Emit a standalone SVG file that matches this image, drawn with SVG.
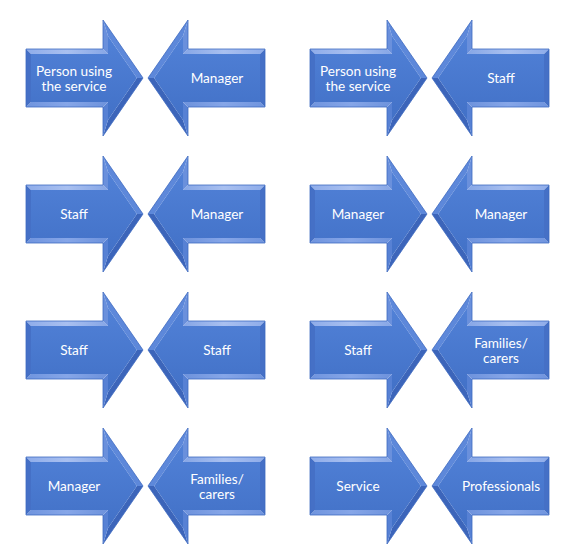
<svg xmlns="http://www.w3.org/2000/svg" xmlns:xlink="http://www.w3.org/1999/xlink" width="570" height="560" viewBox="0 0 570 560">
<style>
text{font-family:Lato,"Open Sans","Liberation Sans",sans-serif;font-size:13.6px;fill:#ffffff;text-anchor:middle}
.top{fill:url(#gTop)}
.hb1{fill:#6a90dc}
.hu{fill:#5d88da}
.hl{fill:#3c65ba}
.hb2{fill:#5781d4}
.bot{fill:url(#gBot)}
.end{fill:#4570c6}
.face{fill:url(#gFace)}
.out{fill:none;stroke:#3d69c0;stroke-width:0.8;stroke-linejoin:miter}
</style>
<defs>
<linearGradient id="gFace" x1="0" y1="0" x2="0" y2="1">
<stop offset="0" stop-color="#5181d7"/>
<stop offset="1" stop-color="#4271c7"/>
</linearGradient>
<linearGradient id="gTop" x1="0" y1="0" x2="1" y2="0">
<stop offset="0" stop-color="#8eacea"/>
<stop offset="0.5" stop-color="#a9c0f0"/>
<stop offset="1" stop-color="#86a6e6"/>
</linearGradient>
<linearGradient id="gBot" x1="0" y1="0" x2="1" y2="0">
<stop offset="0" stop-color="#6f94de"/>
<stop offset="0.5" stop-color="#86a6e8"/>
<stop offset="1" stop-color="#6d92dc"/>
</linearGradient>
<g id="arrowR">
<polygon class="top" points="0,-29 77,-29 82,-24 5,-24"/>
<polygon class="hb1" points="77,-29 77,-58 82,-42 82,-24"/>
<polygon class="hu" points="77,-58 117,0 110.9,0 82,-42"/>
<polygon class="hl" points="117,0 77,58 82,42 110.9,0"/>
<polygon class="hb2" points="77,58 77,29 82,24 82,42"/>
<polygon class="bot" points="77,29 0,29 5,24 82,24"/>
<polygon class="end" points="0,29 0,-29 5,-24 5,24"/>
<polygon class="face" points="5,-24 82,-24 82,-42 110.9,0 82,42 82,24 5,24"/>
<polygon class="out" points="0,-29 77,-29 77,-58 117,0 77,58 77,29 0,29"/>
</g>
</defs>
<g id="connectors"></g>

<g id="n1a"><use xlink:href="#arrowR" transform="translate(26,78)"/><text x="74" y="75.5">Person using</text><text x="74" y="90.5">the service</text></g>
<g id="n1b"><use xlink:href="#arrowR" transform="translate(265,78) scale(-1,1)"/><text x="217" y="83">Manager</text></g>
<g id="n2a"><use xlink:href="#arrowR" transform="translate(310,78)"/><text x="358" y="75.5">Person using</text><text x="358" y="90.5">the service</text></g>
<g id="n2b"><use xlink:href="#arrowR" transform="translate(549,78) scale(-1,1)"/><text x="501" y="83">Staff</text></g>

<g id="n3a"><use xlink:href="#arrowR" transform="translate(26,214)"/><text x="74" y="219">Staff</text></g>
<g id="n3b"><use xlink:href="#arrowR" transform="translate(265,214) scale(-1,1)"/><text x="217" y="219">Manager</text></g>
<g id="n4a"><use xlink:href="#arrowR" transform="translate(310,214)"/><text x="358" y="219">Manager</text></g>
<g id="n4b"><use xlink:href="#arrowR" transform="translate(549,214) scale(-1,1)"/><text x="501" y="219">Manager</text></g>

<g id="n5a"><use xlink:href="#arrowR" transform="translate(26,350)"/><text x="74" y="355">Staff</text></g>
<g id="n5b"><use xlink:href="#arrowR" transform="translate(265,350) scale(-1,1)"/><text x="217" y="355">Staff</text></g>
<g id="n6a"><use xlink:href="#arrowR" transform="translate(310,350)"/><text x="358" y="355">Staff</text></g>
<g id="n6b"><use xlink:href="#arrowR" transform="translate(549,350) scale(-1,1)"/><text x="501" y="347.5">Families/</text><text x="501" y="362.5">carers</text></g>

<g id="n7a"><use xlink:href="#arrowR" transform="translate(26,486)"/><text x="74" y="491">Manager</text></g>
<g id="n7b"><use xlink:href="#arrowR" transform="translate(265,486) scale(-1,1)"/><text x="217" y="483.5">Families/</text><text x="217" y="498.5">carers</text></g>
<g id="n8a"><use xlink:href="#arrowR" transform="translate(310,486)"/><text x="358" y="491">Service</text></g>
<g id="n8b"><use xlink:href="#arrowR" transform="translate(549,486) scale(-1,1)"/><text x="501" y="491">Professionals</text></g>
</svg>
